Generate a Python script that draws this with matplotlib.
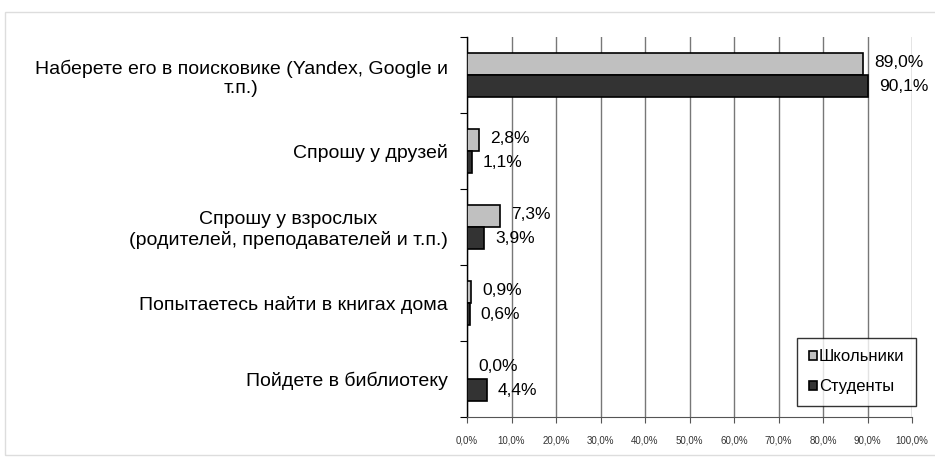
""" bar chart: where to look for an unknown word """

import matplotlib
matplotlib.use('Agg')
from matplotlib import pyplot as plt
from matplotlib.patches import Rectangle
import numpy as np

plt.rcParams['font.family'] = ['Liberation Sans', 'DejaVu Sans']

# data
categories = [
    'Наберете его в поисковике (Yandex, Google и\nт.п.)',
    'Спрошу у друзей',
    'Спрошу у взрослых\n(родителей, преподавателей и т.п.)',
    'Попытаетесь найти в книгах дома',
    'Пойдете в библиотеку',
]
pupils = [89.0, 2.8, 7.3, 0.9, 0.0]
students = [90.1, 1.1, 3.9, 0.6, 4.4]
series_names = ['Школьники', 'Студенты']
xticks = np.arange(0, 101, 10)

# figure
fig = plt.figure(figsize=(9.35, 4.59), dpi=100)
ax = fig.add_axes([0.4995, 0.0915, 0.4759, 0.8279])

# outer light frame
fig.patches.append(Rectangle((5 / 935, 4 / 459), 935, 443 / 459,
                             transform=fig.transFigure, fill=False,
                             edgecolor='#dddddd', linewidth=1))

y = np.arange(len(categories))
h = 0.29
ax.barh(y - h / 2, pupils, height=h, color='#c0c0c0', edgecolor='black',
        linewidth=1.2, label=series_names[0], zorder=3)
ax.barh(y + h / 2, students, height=h, color='#333333', edgecolor='black',
        linewidth=1.2, label=series_names[1], zorder=3)

# value labels
for i in range(len(categories)):
    ax.annotate(f'{pupils[i]:.1f}%'.replace('.', ','), (pupils[i], y[i] - h / 2),
                xytext=(8, 1), textcoords='offset points', va='center',
                fontsize=12.5, zorder=4)
    ax.annotate(f'{students[i]:.1f}%'.replace('.', ','), (students[i], y[i] + h / 2),
                xytext=(8, 0), textcoords='offset points', va='center',
                fontsize=12.5, zorder=4)

ax.set_ylim(len(categories) - 0.5, -0.5)
ax.set_xlim(0, 100)
ax.set_yticks(np.arange(len(categories) + 1) - 0.5, minor=False)
ax.set_yticklabels([])
ax.set_yticks(y, minor=True)
ax.set_yticklabels(categories, minor=True, fontsize=14, multialignment='center')
ax.tick_params(axis='y', which='minor', length=0, pad=14)
ax.tick_params(axis='y', which='major', length=5, direction='out')

ax.set_xticks(xticks)
ax.set_xticklabels([f'{v:.1f}%'.replace('.', ',') for v in xticks],
                   fontsize=7, color='#333333')
ax.tick_params(axis='x', length=4, direction='out', pad=9, color='#555555')
ax.grid(axis='x', color='#777777', linewidth=1, zorder=0)

for side in ['top', 'right']:
    ax.spines[side].set_visible(False)
ax.spines['left'].set_linewidth(1)
ax.spines['bottom'].set_color('#555555')

leg = ax.legend(loc='lower right', bbox_to_anchor=(916 / 935, (459 - 406) / 459),
                bbox_transform=fig.transFigure, fontsize=12, frameon=True,
                fancybox=False, edgecolor='black', handlelength=0.5,
                handleheight=0.5, handletextpad=0.1, labelspacing=0.9,
                borderpad=0.7, borderaxespad=0)
leg.get_frame().set_linewidth(1)
leg.set_zorder(5)

fig.savefig('out.png', dpi=100)
